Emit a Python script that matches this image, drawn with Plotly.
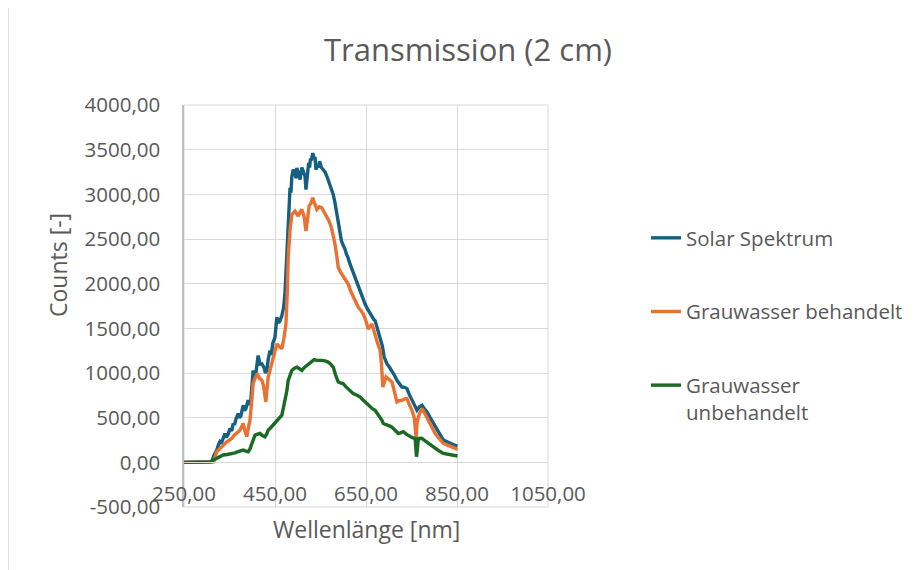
import plotly.graph_objects as go

# ---- data ----
wl_solar = [250, 300, 311, 316, 322, 326, 329, 332, 335, 340, 343, 346, 351, 355, 358, 361, 364, 369, 372, 375,
            380, 383, 386, 391, 396, 399, 402, 405, 408, 413, 417, 421, 426, 429, 432, 435, 439, 442, 445, 450,
            452, 454, 458, 461, 465, 469, 472, 476, 480, 483, 485, 487, 490, 494, 496, 498, 502, 505, 507, 509,
            512, 516, 518, 521, 524, 526, 528, 530, 533, 536, 538, 540, 544, 546, 548, 552, 556, 560, 564, 568,
            571, 575, 578, 582, 586, 590, 593, 596, 598, 604, 607, 610, 615, 620, 623, 626, 631, 634, 637, 642,
            645, 648, 653, 659, 664, 667, 670, 675, 681, 686, 690, 693, 696, 701, 707, 712, 718, 723, 729, 735,
            740, 745, 751, 757, 762, 767, 773, 778, 784, 791, 798, 804, 810, 815, 820, 828, 835, 843, 851]
counts_solar = [0, 0, 5, 80, 137, 200, 230, 210, 260, 323, 280, 300, 379, 350, 435, 420, 480, 546, 500, 520,
                639, 580, 600, 695, 640, 800, 1029, 960, 1000, 1196, 1100, 1103, 1060, 1000, 1029, 1150, 1252, 1200, 1330, 1400,
                1560, 1623, 1560, 1586, 1640, 1735, 1900, 2366, 2800, 3072, 3020, 3200, 3277, 3230, 3180, 3295, 3220, 3165, 3240, 3300,
                3258, 3200, 3054, 3250, 3351, 3300, 3400, 3380, 3462, 3400, 3420, 3277, 3330, 3300, 3370, 3300, 3277, 3250, 3202, 3150,
                3109, 3060, 2998, 2900, 2775, 2650, 2515, 2480, 2450, 2385, 2330, 2300, 2218, 2150, 2120, 2069, 2000, 1950, 1921, 1850,
                1810, 1772, 1720, 1661, 1620, 1600, 1586, 1500, 1400, 1300, 1178, 1130, 1103, 1070, 1029, 980, 918, 880, 843, 840,
                825, 760, 695, 640, 583, 620, 639, 600, 565, 500, 435, 390, 342, 290, 249, 230, 212, 195, 182]

wl_treated = [250, 300, 315, 322, 328, 333, 338, 344, 350, 355, 360, 366, 370, 373, 377, 380, 384, 388, 392, 395,
              399, 402, 407, 411, 416, 421, 425, 428, 430, 432, 435, 440, 446, 450, 454, 459, 465, 470, 474, 477,
              479, 483, 487, 490, 494, 498, 501, 505, 509, 514, 518, 521, 525, 529, 533, 537, 542, 547, 553, 558,
              563, 569, 574, 578, 582, 586, 589, 594, 600, 605, 611, 616, 622, 627, 633, 639, 644, 650, 655, 659,
              663, 667, 670, 675, 681, 684, 687, 690, 694, 700, 707, 712, 718, 723, 729, 735, 740, 745, 751, 756,
              759, 760, 762, 763, 768, 773, 780, 787, 795, 802, 810, 820, 828, 835, 843, 851]
counts_treated = [0, 0, 5, 119, 150, 175, 200, 230, 250, 267, 300, 323, 340, 360, 400, 435, 350, 286, 400, 472,
                  700, 880, 950, 992, 940, 918, 850, 720, 676, 800, 955, 1050, 1178, 1250, 1326, 1300, 1270, 1400, 1549, 1900,
                  2292, 2600, 2775, 2790, 2812, 2780, 2757, 2800, 2831, 2750, 2589, 2700, 2868, 2900, 2961, 2900, 2831, 2860, 2849, 2800,
                  2757, 2700, 2626, 2540, 2441, 2300, 2181, 2130, 2088, 2040, 1995, 1920, 1846, 1790, 1735, 1700, 1661, 1580, 1493, 1520,
                  1549, 1480, 1419, 1340, 1252, 1100, 843, 900, 955, 930, 899, 800, 676, 690, 695, 710, 713, 650, 583, 500,
                  330, 286, 420, 472, 550, 602, 540, 472, 400, 323, 270, 212, 195, 182, 165, 145]

wl_untreated = [250, 300, 308, 315, 322, 330, 336, 345, 355, 362, 369, 375, 380, 386, 391, 395, 399, 403, 406, 412,
                417, 422, 428, 432, 435, 441, 446, 450, 455, 460, 465, 468, 472, 476, 479, 483, 487, 492, 498, 503,
                509, 514, 520, 525, 531, 536, 542, 547, 553, 560, 567, 572, 578, 583, 589, 594, 600, 605, 611, 616,
                622, 630, 637, 643, 648, 653, 659, 664, 670, 675, 681, 685, 688, 693, 699, 705, 710, 715, 721, 726,
                732, 740, 747, 752, 758, 760, 761, 763, 765, 769, 773, 780, 787, 795, 802, 810, 820, 835, 851]
counts_untreated = [0, 0, 5, 25, 45, 65, 82, 88, 93, 105, 119, 125, 137, 125, 119, 150, 212, 260, 305, 315,
                    323, 300, 286, 320, 360, 390, 416, 440, 472, 500, 528, 600, 695, 800, 918, 980, 1029, 1050, 1066, 1050,
                    1029, 1060, 1085, 1110, 1141, 1150, 1141, 1145, 1141, 1135, 1122, 1100, 1066, 980, 899, 890, 880, 850, 825, 800,
                    769, 750, 732, 700, 676, 650, 620, 600, 583, 550, 509, 470, 435, 425, 416, 400, 379, 350, 323, 330,
                    342, 310, 286, 275, 267, 120, 63, 150, 267, 270, 267, 240, 212, 185, 156, 130, 100, 85, 71]

series_names = ["Solar Spektrum", "Grauwasser behandelt", "Grauwasser<br>unbehandelt"]
series_colors = ["#156082", "#E97132", "#196B24"]

x_ticks = [250, 450, 650, 850, 1050]
x_tick_labels = ["250,00", "450,00", "650,00", "850,00", "1050,00"]
y_ticks = [-500, 0, 500, 1000, 1500, 2000, 2500, 3000, 3500, 4000]
y_tick_labels = ["-500,00", "0,00", "500,00", "1000,00", "1500,00", "2000,00", "2500,00", "3000,00", "3500,00", "4000,00"]

FONT = "Open Sans"
GREY = "#595959"
OFF = 8  # page offset of the plot div

fig = go.Figure()
for i, (xs, ys) in enumerate([(wl_solar, counts_solar), (wl_treated, counts_treated), (wl_untreated, counts_untreated)]):
    fig.add_trace(go.Scatter(x=xs, y=ys, mode="lines", name=series_names[i],
                             legendgroup=f"g{i}",
                             line=dict(color=series_colors[i], width=3.4)))

fig.update_layout(
    width=922, height=570,
    margin=dict(l=184 - OFF, r=922 - 548 + OFF, t=105 - OFF, b=570 - 507 + OFF),
    paper_bgcolor="white", plot_bgcolor="white",
    separators=",.",
    font=dict(family=FONT, color=GREY, size=20),
    title=dict(text="Transmission (2 cm)", x=(468 - OFF) / 922, xanchor="center", y=1 - (50 - OFF) / 570,
               yanchor="middle", font=dict(family=FONT, size=31, color=GREY)),
    showlegend=True,
    legend=dict(xref="container", yref="container", x=(686 - OFF - 40) / 922, y=1 - (238 - OFF - 20) / 570,
                xanchor="left", yanchor="top",
                valign="top", tracegroupgap=44, font=dict(family=FONT, size=20.5, color=GREY),
                bgcolor="rgba(0,0,0,0)"),
    xaxis=dict(range=[250, 1050], tickvals=x_ticks, ticktext=x_tick_labels, showgrid=True, gridcolor="#d9d9d9",
               gridwidth=1, anchor="free", position=1 / 9, showline=True, linecolor="#d9d9d9", ticks="",
               zeroline=False, ticklabelstandoff=13, tickfont=dict(family=FONT, size=20.5, color=GREY)),
    yaxis=dict(range=[-500, 4000], tickvals=y_ticks, ticktext=y_tick_labels, showgrid=True, gridcolor="#d9d9d9",
               gridwidth=1, showline=True, linecolor="#bfbfbf", linewidth=1.5, ticks="", zeroline=False,
               ticklabelstandoff=18, tickfont=dict(family=FONT, size=20.5, color=GREY)),
)

# plot-area frame and chart-area frame
fig.add_shape(type="rect", xref="paper", yref="paper", x0=0, x1=1, y0=0, y1=1,
              line=dict(color="#d9d9d9", width=1), layer="below")
fig.add_shape(type="rect", xref="paper", yref="paper",
              x0=(8 - 184) / 364, x1=(935 - 184) / 364, y0=(507 - 590) / 402, y1=(507 - 7) / 402,
              line=dict(color="#d9d9d9", width=1.5), layer="below")

# axis titles
fig.add_annotation(text="Counts [-]", xref="paper", yref="paper", x=(58 - 184) / 364, y=(507 - 265) / 402,
                   showarrow=False, textangle=-90, xanchor="center", yanchor="middle",
                   font=dict(family=FONT, size=23, color=GREY))
fig.add_annotation(text="Wellenlänge [nm]", xref="paper", yref="paper", x=(366 - 184) / 364, y=(507 - 529) / 402,
                   showarrow=False, xanchor="center", yanchor="middle",
                   font=dict(family=FONT, size=23, color=GREY))

fig.write_html("out.html")
